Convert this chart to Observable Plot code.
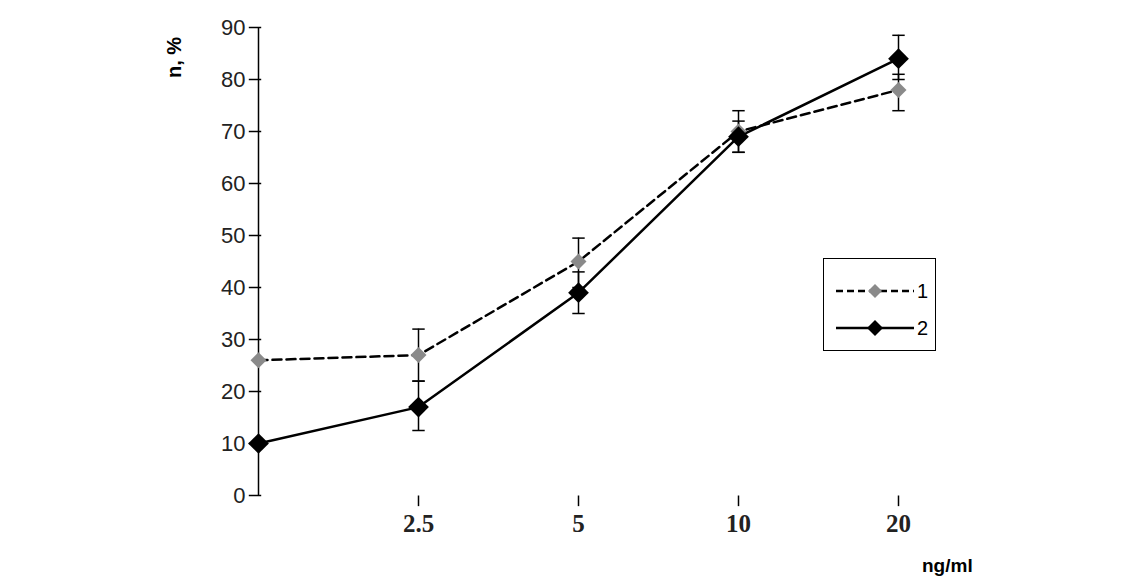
<!DOCTYPE html>
<html><head>
<script src="https://cdn.jsdelivr.net/npm/d3@7"></script>
<script src="https://cdn.jsdelivr.net/npm/@observablehq/plot@0.6"></script>
<style>
body{margin:0;background:#fff;}
#wrap{position:relative;width:1143px;height:583px;}
#legend{position:absolute;left:823px;top:258px;width:113px;height:93px;border:1.5px solid #000;background:#fff;box-sizing:border-box;}
.lab{position:absolute;font:bold 20px "Liberation Sans",Arial,sans-serif;}
</style>
</head><body>
<div id="wrap"></div>
<script>
const doses = ["0","2.5","5","10","20"];
const series1 = [26, 27, 45, 70, 78];
const err1Lo = [null, 22, 40, 66, 74];
const err1Hi = [null, 32, 49.5, 74, 81];
const series2 = [10, 17, 39, 69, 84];
const err2Lo = [null, 12.5, 35, 66, 80];
const err2Hi = [null, 22, 43, 72, 88.5];
const yTicks = [0,10,20,30,40,50,60,70,80,90];
const xLabels = ["2.5","5","10","20"];

const d1 = doses.map((d,i)=>({x:d,y:series1[i],lo:err1Lo[i],hi:err1Hi[i]}));
const d2 = doses.map((d,i)=>({x:d,y:series2[i],lo:err2Lo[i],hi:err2Hi[i]}));
const errs = [...d1,...d2].filter(d=>d.lo!=null);
const cap = {draw(ctx,size){const w=Math.sqrt(size);ctx.moveTo(-w,0);ctx.lineTo(w,0);}};
const diamond = {draw(ctx,size){const w=Math.sqrt(size)*0.9;ctx.moveTo(0,-w);ctx.lineTo(w,0);ctx.lineTo(0,w);ctx.lineTo(-w,0);ctx.closePath();}};

const plot = Plot.plot({
  width:1143, height:583,
  marginLeft:258, marginRight:245, marginTop:27, marginBottom:88,
  x:{type:"point", domain:doses, padding:0, axis:null},
  y:{domain:[0,90], axis:null},
  marks:[
    Plot.ruleX(["0"],{y1:0,y2:90,stroke:"#000",strokeWidth:1.5}),
    Plot.ruleY([0],{x1:"0",x2:"20",stroke:"#000",strokeWidth:1.5}),
    Plot.text(yTicks,{x:()=>"0",y:d=>d,text:d=>String(d),dx:-13,textAnchor:"end",fontSize:22,fontFamily:"Liberation Sans, Arial",fill:"#222"}),
    Plot.dot(yTicks,{x:()=>"0",y:d=>d,symbol:cap,r:3.5,stroke:"#000",strokeWidth:1.5,dx:-3.5}),
    Plot.dot(xLabels,{x:d=>d,y:0,symbol:{draw(ctx,s){const w=Math.sqrt(s);ctx.moveTo(0,0);ctx.lineTo(0,w);}},r:6,stroke:"#000",strokeWidth:1.5}),
    Plot.text(xLabels,{x:d=>d,y:0,text:d=>d,dy:28,fontSize:25,fontWeight:"bold",fontFamily:"Liberation Serif, Times New Roman",fill:"#222"}),
    Plot.line(d1,{x:"x",y:"y",stroke:"#000",strokeWidth:2.5,strokeDasharray:"9,5"}),
    Plot.line(d2,{x:"x",y:"y",stroke:"#000",strokeWidth:2.5}),
    Plot.ruleX(errs,{x:"x",y1:"lo",y2:"hi",stroke:"#000",strokeWidth:1.5}),
    Plot.dot(errs,{x:"x",y:"lo",symbol:cap,r:3.5,stroke:"#000",strokeWidth:1.5}),
    Plot.dot(errs,{x:"x",y:"hi",symbol:cap,r:3.5,stroke:"#000",strokeWidth:1.5}),
    Plot.dot(d1,{x:"x",y:"y",symbol:diamond,r:5,fill:"#8a8a8a"}),
    Plot.dot(d2,{x:"x",y:"y",symbol:diamond,r:6.5,fill:"#000"})
  ]
});
const wrap=document.getElementById("wrap");
wrap.appendChild(plot);
wrap.insertAdjacentHTML("beforeend",`
<div class="lab" style="left:163px;top:78px;transform:rotate(-90deg);transform-origin:left top;">n, %</div>
<div class="lab" style="left:922px;top:555px;font-size:19px;">ng/ml</div>
<div id="legend"><svg width="110" height="90">
<line x1="12" y1="32" x2="90" y2="32" stroke="#000" stroke-width="2.5" stroke-dasharray="7,4"/>
<path d="M51 25 L58 32 L51 39 L44 32Z" fill="#8a8a8a"/>
<line x1="12" y1="69" x2="90" y2="69" stroke="#000" stroke-width="2.5"/>
<path d="M51 61 L59 69 L51 77 L43 69Z" fill="#000"/>
<text x="93" y="39" font-family="Liberation Sans,Arial" font-size="20">1</text>
<text x="93" y="76" font-family="Liberation Sans,Arial" font-size="20">2</text>
</svg></div>`);
</script>
</body></html>
